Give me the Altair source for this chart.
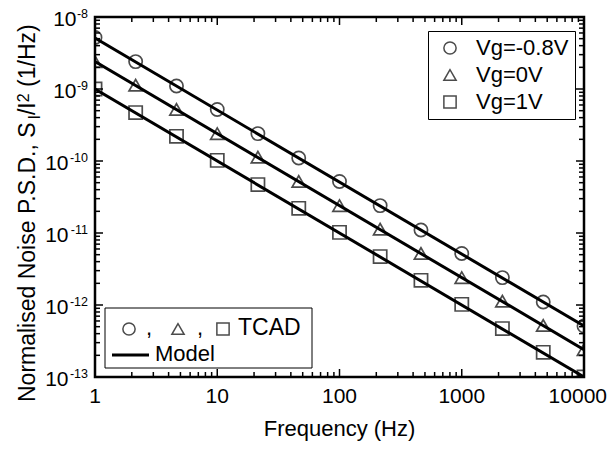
import altair as alt
import pandas as pd

# ---------------- data ----------------
freqs = [1, 2.15, 4.64, 10, 21.5, 46.4, 100, 215, 464, 1000, 2150, 4640, 10000]
psd_m08 = [5.2e-9, 2.4e-9, 1.1e-9, 5.2e-10, 2.4e-10, 1.1e-10, 5.2e-11,
           2.4e-11, 1.1e-11, 5.2e-12, 2.4e-12, 1.1e-12, 5.1e-13]
psd_0 = [2.4e-9, 1.13e-9, 5.2e-10, 2.4e-10, 1.13e-10, 5.2e-11, 2.4e-11,
         1.13e-11, 5.2e-12, 2.4e-12, 1.13e-12, 5.2e-13, 2.4e-13]
psd_1 = [1.0e-9, 4.7e-10, 2.2e-10, 1.02e-10, 4.7e-11, 2.2e-11, 1.02e-11,
         4.7e-12, 2.2e-12, 1.02e-12, 4.7e-13, 2.2e-13, 1.0e-13]
series = ["Vg=-0.8V", "Vg=0V", "Vg=1V"]
shapes = ["circle", "triangle-up", "square"]

model_f = [1, 10000]
model_m08 = [5.1e-9, 5.1e-13]
model_0 = [2.4e-9, 2.4e-13]
model_1 = [1.0e-9, 1.0e-13]

x_major = [1, 10, 100, 1000, 10000]
x_labels = ["1", "10", "100", "1000", "10000"]
y_major = [1e-13, 1e-12, 1e-11, 1e-10, 1e-9, 1e-8]
y_exps = ["-13", "-12", "-11", "-10", "-9", "-8"]
minor_mult = [2, 3, 4, 5, 6, 7, 8, 9]
x_minor = [m * d for d in x_major[:-1] for m in minor_mult]
y_minor = [m * d for d in y_major[:-1] for m in minor_mult]

# ---------------- layout ----------------
W, H = 489, 360
FONT = "Liberation Sans"
MAJ, MIN = 8, 5

xs = alt.Scale(type="log", domain=[1, 10000], nice=False)
ys = alt.Scale(type="log", domain=[1e-13, 1e-8], nice=False)

pts = pd.DataFrame({
    "freq": freqs * 3,
    "psd": psd_m08 + psd_0 + psd_1,
    "series": [s for s in series for _ in freqs],
})
mdl = pd.DataFrame({
    "freq": model_f * 3,
    "psd": model_m08 + model_0 + model_1,
    "series": [s for s in series for _ in model_f],
})
one = pd.DataFrame({"k": [0]})

lines = alt.Chart(mdl).mark_line(color="black", strokeWidth=3, clip=True).encode(
    x=alt.X("freq:Q", scale=xs, axis=None),
    y=alt.Y("psd:Q", scale=ys, axis=None),
    detail="series:N",
)

points = alt.Chart(pts).mark_point(
    filled=False, color="black", strokeWidth=1.7, size=175, clip=True
).encode(
    x=alt.X("freq:Q", scale=xs, axis=None),
    y=alt.Y("psd:Q", scale=ys, axis=None),
    shape=alt.Shape(
        "series:N",
        scale=alt.Scale(domain=series, range=shapes),
        legend=alt.Legend(
            title=None, orient="none", legendX=333, legendY=14,
            direction="vertical", strokeColor="black", fillColor="white",
            padding=6, labelFont=FONT, labelFontSize=22, labelColor="black",
            symbolSize=150, symbolStrokeWidth=1.5, symbolStrokeColor="black",
            symbolOffset=5, labelOffset=15, rowPadding=5, labelLimit=300,
        ),
    ),
)


def xticks(vals, length, top):
    yc = length / 2 if top else H - length / 2
    return alt.Chart(pd.DataFrame({"freq": vals})).mark_tick(
        orient="vertical", size=length, thickness=1.5, color="black", opacity=1
    ).encode(
        x=alt.X("freq:Q", scale=xs, axis=None),
        y=alt.value(yc),
    )


def yticks(vals, length, right):
    xc = W - length / 2 if right else length / 2
    return alt.Chart(pd.DataFrame({"psd": vals})).mark_tick(
        orient="horizontal", size=length, thickness=1.5, color="black", opacity=1
    ).encode(
        y=alt.Y("psd:Q", scale=ys, axis=None),
        x=alt.value(xc),
    )


ticks = [
    xticks(x_major, MAJ, False), xticks(x_minor, MIN, False),
    xticks(x_major, MAJ, True), xticks(x_minor, MIN, True),
    yticks(y_major, MAJ, False), yticks(y_minor, MIN, False),
    yticks(y_major, MAJ, True), yticks(y_minor, MIN, True),
]

# x tick labels and title
xlab = pd.DataFrame({"freq": x_major, "lab": x_labels})
xlab_inner = alt.Chart(xlab).transform_filter("datum.freq < 10000").mark_text(
    align="center", baseline="alphabetic", fontSize=21, font=FONT, color="black",
).encode(x=alt.X("freq:Q", scale=xs, axis=None), y=alt.value(H + 26), text="lab:N")
xlab_last = alt.Chart(xlab).transform_filter("datum.freq >= 10000").mark_text(
    align="right", baseline="alphabetic", fontSize=21, font=FONT, color="black",
    dx=23,
).encode(x=alt.X("freq:Q", scale=xs, axis=None), y=alt.value(H + 26), text="lab:N")

# y tick labels 10^n built from base + superscript exponent
ylab = pd.DataFrame({"psd": y_major, "exp": y_exps})
exp_layer = alt.Chart(ylab).mark_text(
    align="right", baseline="alphabetic", fontSize=12.5, dy=1,
    font=FONT, color="black",
).encode(y=alt.Y("psd:Q", scale=ys, axis=None), x=alt.value(-7), text="exp:N")
ten_short = alt.Chart(ylab).transform_filter("length(datum.exp) == 2").mark_text(
    text="10", align="right", baseline="alphabetic", fontSize=21, dy=9,
    font=FONT, color="black",
).encode(y=alt.Y("psd:Q", scale=ys, axis=None), x=alt.value(-18.5))
ten_long = alt.Chart(ylab).transform_filter("length(datum.exp) == 3").mark_text(
    text="10", align="right", baseline="alphabetic", fontSize=21, dy=9,
    font=FONT, color="black",
).encode(y=alt.Y("psd:Q", scale=ys, axis=None), x=alt.value(-26.5))


def rot(txt, size, x, y):
    return alt.Chart(one).mark_text(
        text=txt, angle=270, align="left", baseline="alphabetic",
        fontSize=size, font=FONT, color="black",
    ).encode(x=alt.value(x), y=alt.value(y))


ytitle = [
    rot("Normalised Noise P.S.D., S", 23, -60, 385),
    rot("I", 16, -55, 102.5),
    rot("/I", 23, -60, 98.05),
    rot("2", 16, -66, 85.25),
    rot("(1/Hz)", 23, -60, 69.95),
]


def txt(t, x, y, size=22, align="left"):
    return alt.Chart(one).mark_text(
        text=t, align=align, baseline="alphabetic", fontSize=size,
        font=FONT, color="black",
    ).encode(x=alt.value(x), y=alt.value(y))


def sym(shape, x, y):
    return alt.Chart(one).mark_point(
        shape=shape, filled=False, color="black", strokeWidth=1.5, size=150,
    ).encode(x=alt.value(x), y=alt.value(y))


xtitle = txt("Frequency (Hz)", W / 2, H + 58.5, size=22, align="center")

legend2 = [
    alt.Chart(one).mark_rect(fill="white", stroke="black", strokeWidth=1).encode(
        x=alt.value(10), x2=alt.value(217), y=alt.value(291), y2=alt.value(351)
    ),
    sym("circle", 34, 312),
    txt(",", 54, 318, align="center"),
    sym("triangle-up", 83, 312),
    txt(",", 105, 318, align="center"),
    sym("square", 128, 312),
    txt("TCAD", 143, 318, size=23),
    alt.Chart(one).mark_rule(color="black", strokeWidth=3).encode(
        x=alt.value(17), x2=alt.value(54), y=alt.value(338)
    ),
    txt("Model", 60, 344),
]

chart = alt.layer(
    lines, points, *ticks, xlab_inner, xlab_last, xtitle, exp_layer,
    ten_short, ten_long, *ytitle, *legend2
).properties(
    width=W, height=H,
    autosize=alt.AutoSizeParams(type="none"),
    padding={"left": 87, "top": 9, "right": 24, "bottom": 64},
).configure(font=FONT).configure_view(stroke="black", strokeWidth=2.5)

chart.save("out.html", embed_options={"renderer": "svg", "actions": False})
